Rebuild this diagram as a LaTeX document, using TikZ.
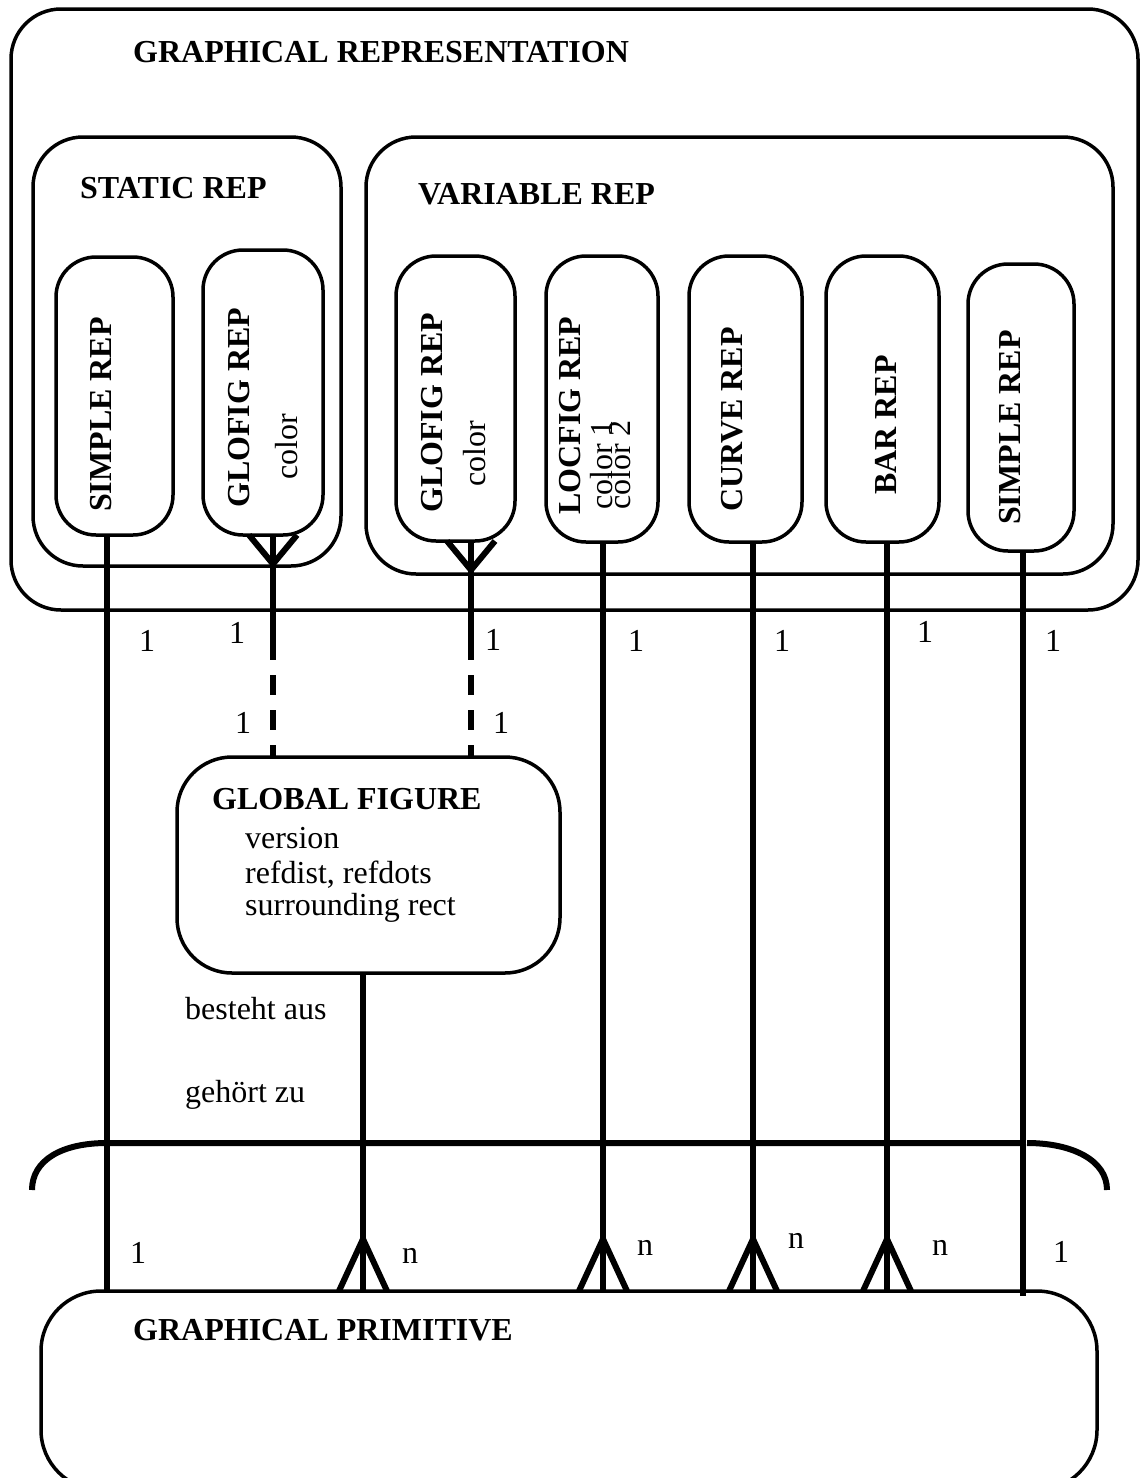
\documentclass[tikz,border=0pt]{standalone}
\usepackage{fontspec}
\setmainfont{Liberation Serif}
\begin{document}
\begin{tikzpicture}[x=1pt,y=-1pt,
  box/.style={draw, line width=3.5pt, inner sep=0pt, outer sep=0pt},
  conn/.style={line width=6pt},
  dconn/.style={line width=6pt, dash pattern=on 20pt off 15pt, dash phase=20pt},
  lbl/.style={inner sep=0pt, anchor=base, font=\fontsize{32}{36}\selectfont},
  ttl/.style={inner sep=0pt, anchor=base west, font=\fontsize{32}{36}\selectfont\bfseries},
  txt/.style={inner sep=0pt, anchor=base west, font=\fontsize{32}{36}\selectfont},
  vttl/.style={ttl, rotate=90},
  vtxt/.style={txt, rotate=90},
]
\useasboundingbox (0,0) rectangle (1142,1478);
\begin{scope}
\clip (0,0) rectangle (1142,1478);
% containers
\node[box, rounded corners=50, minimum width=1127, minimum height=601] (outer) at (574.5,309.5) {};
\node[box, rounded corners=50, minimum width=308, minimum height=429] (static) at (187,351.5) {};
\node[box, rounded corners=50, minimum width=747, minimum height=437] (variable) at (739.5,355.5) {};
% inner boxes
\node[box, rounded corners=40, minimum width=117, minimum height=278] (s1) at (114.5,396) {};
\node[box, rounded corners=40, minimum width=120, minimum height=285] (g1) at (263,392.5) {};
\node[box, rounded corners=40, minimum width=119, minimum height=285] (g2) at (455.5,398.5) {};
\node[box, rounded corners=40, minimum width=112, minimum height=286] (lf) at (602,399) {};
\node[box, rounded corners=40, minimum width=113, minimum height=286] (cr) at (745.5,399) {};
\node[box, rounded corners=40, minimum width=113, minimum height=286] (br) at (882.5,399) {};
\node[box, rounded corners=40, minimum width=106, minimum height=287] (s2) at (1021,407.5) {};
\node[box, rounded corners=55, minimum width=383, minimum height=216] (gf) at (368.5,865) {};
\node[box, rounded corners=60, minimum width=1056, minimum height=199] (gp) at (569,1390.5) {};
\end{scope}
% columns
\coordinate (X1) at (107,0);
\coordinate (X2) at (273,0);
\coordinate (X3) at (471,0);
\coordinate (X4) at (603,0);
\coordinate (X5) at (753,0);
\coordinate (X6) at (887,0);
\coordinate (X7) at (1023,0);
\coordinate (X8) at (363,0);
\coordinate (d2) at (273,660);
\coordinate (d3) at (471,660);
% connectors
\draw[conn] (s1.south -| X1) -- (gp.north -| X1);
\draw[conn] (g1.south -| X2) -- (d2);
\draw[dconn] (d2) -- (gf.north -| X2);
\draw[conn] (g1.south -| X2) ++(-24,0) -- ++(24,29) -- ++(24,-29);
\draw[conn] (g2.south -| X3) -- (d3);
\draw[dconn] (d3) -- (gf.north -| X3);
\draw[conn] (g2.south -| X3) ++(-24,0) -- ++(24,29) -- ++(24,-29);
\draw[conn] (lf.south -| X4) -- (gp.north -| X4);
\draw[conn] (cr.south -| X5) -- (gp.north -| X5);
\draw[conn] (br.south -| X6) -- (gp.north -| X6);
\draw[conn] (s2.south -| X7) -- ([yshift=-5pt]gp.north -| X7);
\draw[conn] (gf.south -| X8) -- (gp.north -| X8);
\foreach \c in {X4,X5,X6,X8}{
  \draw[conn] (gp.north -| \c) ++(-24,0) -- ++(24,-52) -- ++(24,52);
}
% bracket
\coordinate (bl) at (32,1190);
\coordinate (br0) at (1107,1190);
\draw[conn] (bl) .. controls (32,1160) and (62,1143) .. (107,1143) -- (1023,1143);
\draw[conn] (1027,1143) .. controls (1072,1143) and (1107,1160) .. (br0);
% titles
\node[ttl] (t0) at (133,62) {GRAPHICAL REPRESENTATION};
\node[ttl] (t1) at (80,198) {STATIC REP};
\node[ttl] (t2) at (418,204) {VARIABLE REP};
% rotated texts
\node[vttl] (ts1) at (111,512) {SIMPLE REP};
\node[vttl] (tg1) at (249,508) {GLOFIG REP};
\node[vtxt] (tg1c) at (297,480) {color};
\node[vttl] (tg2) at (442,513) {GLOFIG REP};
\node[vtxt] (tg2c) at (485,487) {color};
\node[vttl] (tl) at (580,515) {LOCFIG REP};
\node[vtxt] (tl1) at (612,510) {color 1};
\node[vtxt] (tl2) at (630,510) {color 2};
\node[vttl] (tc) at (742,512) {CURVE REP};
\node[vttl] (tb) at (896,495) {BAR REP};
\node[vttl] (ts2) at (1020,525) {SIMPLE REP};
% global figure
\node[ttl] (gft) at (212,809) {GLOBAL FIGURE};
\node[txt] (gfa) at (245,848) {version};
\node[txt] (gfb) at (245,883) {refdist, refdots};
\node[txt] (gfc) at (245,915) {surrounding rect};
\node[txt] (ba) at (185,1019) {besteht aus};
\node[txt] (gz) at (185,1102) {gehört zu};
\node[ttl] (gpt) at (133,1340) {GRAPHICAL PRIMITIVE};
% cardinalities
\node[lbl] (k1) at (147,651) {1};
\node[lbl] (k2) at (237,643) {1};
\node[lbl] (k3) at (493,650) {1};
\node[lbl] (k4) at (636,651) {1};
\node[lbl] (k5) at (782,651) {1};
\node[lbl] (k6) at (925,642) {1};
\node[lbl] (k7) at (1053,651) {1};
\node[lbl] (k8) at (243,733) {1};
\node[lbl] (k9) at (501,733) {1};
\node[lbl] (m1) at (138,1263) {1};
\node[lbl] (m2) at (410,1263) {n};
\node[lbl] (m3) at (645,1255) {n};
\node[lbl] (m4) at (796,1248) {n};
\node[lbl] (m5) at (940,1255) {n};
\node[lbl] (m6) at (1061,1262) {1};
\end{tikzpicture}
\end{document}
